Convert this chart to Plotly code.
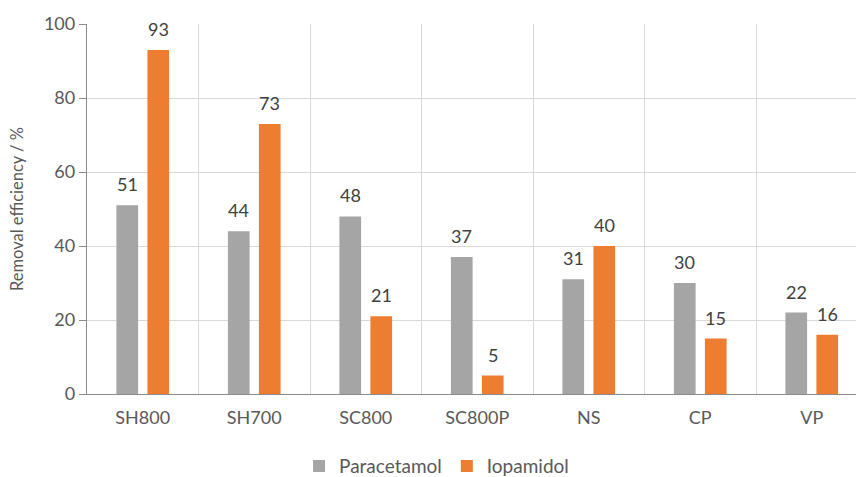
import plotly.graph_objects as go

# Adsorbent samples and removal efficiencies (%)
categories = ["SH800", "SH700", "SC800", "SC800P", "NS", "CP", "VP"]
paracetamol = [51, 44, 48, 37, 31, 30, 22]
iopamidol = [93, 73, 21, 5, 40, 15, 16]

GRAY = "#A5A5A5"
ORANGE = "#ED7D31"
FONT = "Lato"

fig = go.Figure()
fig.add_trace(go.Bar(name="Paracetamol", x=categories, y=paracetamol,
                     marker=dict(color=GRAY, line=dict(width=0))))
fig.add_trace(go.Bar(name="Iopamidol", x=categories, y=iopamidol,
                     marker=dict(color=ORANGE, line=dict(width=0))))

# value labels above each bar
PX_PER_CAT = 111.5
SLOT_PX = 31.0
for series, sign in ((paracetamol, -1), (iopamidol, 1)):
    for cat, val in zip(categories, series):
        fig.add_annotation(x=cat, y=val, text=str(val), showarrow=False,
                           xref="x", yref="y", xanchor="center", yanchor="bottom",
                           xshift=sign * SLOT_PX / 2, yshift=8,
                           font=dict(family=FONT, size=18, color="#404040"))

bargap = 1 - 2 * SLOT_PX / PX_PER_CAT
fig.update_layout(
    width=856, height=477,
    margin=dict(l=87, r=0, t=24, b=83, autoexpand=False),
    paper_bgcolor="white", plot_bgcolor="white",
    barmode="group", bargap=bargap, bargroupgap=0.3,
    font=dict(family=FONT, size=18, color="#595959"),
    showlegend=True,
    legend=dict(orientation="h", xref="container", yref="paper",
                x=0.51, y=-0.195, xanchor="center", yanchor="middle",
                font=dict(family=FONT, size=19, color="#595959"),
                itemwidth=30, traceorder="normal"),
    xaxis=dict(
        type="category",
        range=[-0.5, -0.5 + (856 - 87) / PX_PER_CAT],
        tickson="boundaries", ticks="", showgrid=True,
        gridcolor="#D9D9D9", gridwidth=1.3,
        showline=True, linecolor="#8C8C8C", linewidth=1.3,
        tickfont=dict(family=FONT, size=18, color="#595959"),
        ticklabelstandoff=7, automargin=False,
    ),
    yaxis=dict(
        range=[0, 100], dtick=20,
        showgrid=True, gridcolor="#D9D9D9", gridwidth=1.3,
        showline=True, linecolor="#8C8C8C", linewidth=1.3,
        ticks="outside", ticklen=7, tickcolor="#8C8C8C", tickwidth=1.3,
        tickfont=dict(family=FONT, size=18, color="#595959"),
        zeroline=False, automargin=False,
        title=dict(text="Removal efficiency / %", standoff=16,
                   font=dict(family=FONT, size=16.5, color="#595959")),
    ),
)

fig.write_html("out.html")
